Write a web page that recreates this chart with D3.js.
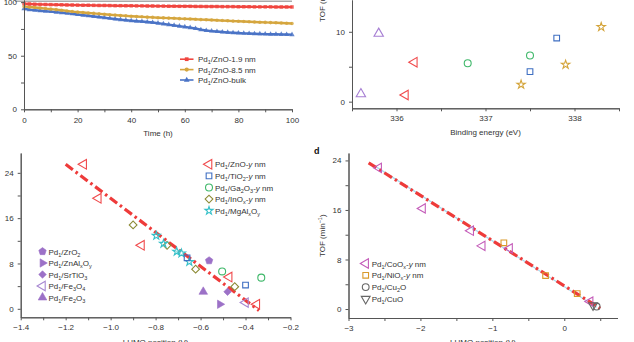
<!DOCTYPE html>
<html>
<head>
<meta charset="utf-8">
<script src="https://cdn.jsdelivr.net/npm/d3@7"></script>
<style>
  html, body { margin: 0; padding: 0; background: #fff; }
  svg { display: block; font-family: "Liberation Sans", Arial, sans-serif; }
  .axis path, .axis line { stroke: #555; stroke-width: 1; }
  .axis text { fill: #333; font-size: 8px; }
  .label { fill: #333; font-size: 8px; }
</style>
</head>
<body>
<div id="chart"></div>
<script>
// Stability runs (a): conversion (%) against time (h).
var hours = [0, 2, 4, 6, 8, 10, 12, 14, 16, 18, 20, 22, 24, 26, 28, 30, 32, 34,
  36, 38, 40, 42, 44, 46, 48, 50, 52, 54, 56, 58, 60, 62, 64, 66, 68, 70, 72,
  74, 76, 78, 80, 82, 84, 86, 88, 90, 92, 94, 96, 98, 100];
var zno19 = [98.6, 98.3, 98.1, 97.9, 97.8, 97.7, 97.6, 97.5, 97.4, 97.3,
  97.2, 97.1, 97.1, 97.0, 96.9, 96.9, 96.8, 96.7, 96.7, 96.6,
  96.6, 96.5, 96.5, 96.4, 96.4, 96.3, 96.3, 96.2, 96.2, 96.1,
  96.1, 96.1, 96.0, 96.0, 95.9, 95.9, 95.9, 95.8, 95.8, 95.8,
  95.7, 95.7, 95.7, 95.6, 95.6, 95.6, 95.6, 95.5, 95.5, 95.5, 95.5];
var zno85 = [96.0, 95.5, 95.0, 94.5, 94.0, 93.5, 93.0, 92.4, 91.8, 91.2,
  90.7, 90.3, 89.9, 89.5, 89.1, 88.7, 88.3, 87.9, 87.5, 87.2,
  86.9, 86.6, 86.3, 86.0, 85.8, 85.5, 85.3, 85.1, 84.9, 84.6,
  84.4, 84.2, 84.0, 83.7, 83.5, 83.3, 83.1, 82.8, 82.6, 82.3,
  82.1, 81.9, 81.7, 81.5, 81.3, 81.1, 80.9, 80.7, 80.5, 80.3, 80.1];
var znoBulk = [93.8, 93.0, 92.5, 92.0, 91.6, 91.2, 90.7, 90.2, 89.7, 89.1,
  88.5, 87.9, 87.3, 86.7, 86.1, 85.5, 84.9, 84.3, 83.7, 83.2,
  82.7, 82.3, 81.9, 81.5, 81.0, 80.4, 79.7, 79.0, 78.3, 77.6,
  76.9, 76.2, 75.4, 74.3, 73.5, 73.0, 72.6, 72.2, 71.8, 71.5,
  71.2, 70.9, 70.7, 70.5, 70.4, 70.2, 70.1, 70.0, 69.9, 69.8, 69.7];
var stabilityNames = ['Pd_1/ZnO-1.9 nm', 'Pd_1/ZnO-8.5 nm', 'Pd_1/ZnO-bulk'];

// TOF against Pd 3d binding energy (eV).
var beTriangles = [[335.6, 1.1], [335.8, 9.75]];
var beZnO = [[336.1, 0.95], [336.2, 5.65]];
var beGa2O3 = [[336.8, 5.5], [337.5, 6.6]];
var beTiO2 = [[337.5, 4.3], [337.8, 9.1]];
var beStars = [[337.4, 2.45], [337.9, 5.3], [338.3, 10.7]];

// TOF against LUMO position (V), n-type supports.
var lumoZnO = [[-1.12, 25.5], [-1.055, 19.5], [-0.863, 11.2], [-0.473, 5.6], [-0.35, 0.8]];
var lumoTiO2 = [[-0.66, 9.0], [-0.40, 4.2]];
var lumoGa2O3 = [[-0.504, 6.6], [-0.33, 5.5]];
var lumoInOx = [[-0.90, 14.8], [-0.749, 11.2], [-0.622, 7.0], [-0.448, 3.9]];
var lumoMgAl = [[-0.797, 12.9], [-0.765, 11.5], [-0.706, 10.1], [-0.685, 9.8], [-0.65, 8.3]];
var lumoZrO2 = [[-0.562, 8.5]];
var lumoZnAl = [[-0.514, 0.8]];
var lumoSrTiO3 = [[-0.48, 3.0]];
var lumoFe3O4 = [[-0.40, 1.1]];
var lumoFe2O3 = [[-0.588, 3.0]];
var fitN = [[-1.2, 25.5], [-0.34, -0.3]];
var namesN = ['Pd_1/ZnO-*y* nm', 'Pd_1/TiO_2-*y* nm', 'Pd_1/Ga_2O_3-*y* nm',
  'Pd_1/InO_x-*y* nm', 'Pd_1/MgAl_xO_y'];
var namesOther = ['Pd_1/ZrO_2', 'Pd_1/ZnAl_xO_y', 'Pd_1/SrTiO_3', 'Pd_1/Fe_3O_4', 'Pd_1/Fe_2O_3'];

// TOF against LUMO position (V), p-type supports (d).
var lumoCoOx = [[-2.58, 22.8], [-1.97, 16.25], [-1.30, 12.65], [-1.14, 10.2], [-0.76, 9.8], [0.36, 1.2]];
var lumoNiOx = [[-0.84, 10.7], [-0.26, 5.4], [0.18, 2.5]];
var lumoCu2O = [[0.45, 0.4]];
var lumoCuO = [[0.40, 0.6]];
var fitP = [[-2.72, 23.6], [0.5, 0.1]];
var guideP = [[-2.62, 23.0], [0.45, 0.3]];
var namesP = ['Pd_1/CoO_x-*y* nm', 'Pd_1/NiO_x-*y* nm', 'Pd_1/Cu_2O', 'Pd_1/CuO'];

var symbolPentagon = {
  draw: function(context, size) {
    var r = Math.sqrt(size / 2.378);
    for (var k = 0; k < 5; k++) {
      var a = -Math.PI / 2 + k * 2 * Math.PI / 5;
      if (k === 0) {
        context.moveTo(r * Math.cos(a), r * Math.sin(a));
      } else {
        context.lineTo(r * Math.cos(a), r * Math.sin(a));
      }
    }
    context.closePath();
  }
};

var shapes = {
  triangle: d3.symbolTriangle,
  square: d3.symbolSquare,
  circle: d3.symbolCircle,
  star: d3.symbolStar,
  pentagon: symbolPentagon
};

var red = '#ee3b3a';
var purple = '#9c71c7';

// Marker styles: shape, area, rotation, colour, filled.
var mk = {
  znoTri: {shape: 'triangle', size: 40, rot: -90, color: '#f04a4c'},
  tiSq: {shape: 'square', size: 32, rot: 0, color: '#3f6fc2'},
  gaCirc: {shape: 'circle', size: 38, rot: 0, color: '#3fb86a'},
  inDia: {shape: 'square', size: 30, rot: 45, color: '#8c8a34'},
  mgStar: {shape: 'star', size: 20, rot: 0, color: '#35c0c8'},
  zrPent: {shape: 'pentagon', size: 36, rot: 0, color: purple, fill: true},
  znAlTri: {shape: 'triangle', size: 30, rot: 90, color: purple, fill: true},
  srDia: {shape: 'square', size: 28, rot: 45, color: purple, fill: true},
  fe3Tri: {shape: 'triangle', size: 38, rot: -90, color: '#a888d2'},
  fe2Tri: {shape: 'triangle', size: 32, rot: 0, color: purple, fill: true},
  beTri: {shape: 'triangle', size: 38, rot: 0, color: '#a67ed3'},
  beStar: {shape: 'star', size: 22, rot: 0, color: '#d4a43a'},
  coTri: {shape: 'triangle', size: 38, rot: -90, color: '#c45cb9'},
  niSq: {shape: 'square', size: 32, rot: 0, color: '#d99a2b'},
  cu2oCirc: {shape: 'circle', size: 36, rot: 0, color: '#666'},
  cuoTri: {shape: 'triangle', size: 34, rot: 180, color: '#666'}
};

var svg = d3.select('#chart').append('svg')
  .attr('width', 634)
  .attr('height', 342);

function css_function(n) {
  return n + '(' + Array.prototype.slice.call(arguments, 1).join(', ') + ')';
}

// Text with _sub, _{sub}, ^{sup} and *italic* runs.
function richText(text, str) {
  var i = 0;
  var shift = 0;
  var italic = false;
  while (i < str.length) {
    var c = str[i];
    if (c === '*') {
      italic = !italic;
      i++;
      continue;
    }
    var kind = null;
    var chunk = '';
    if (c === '_' || c === '^') {
      kind = c;
      if (str[i + 1] === '{') {
        var j = str.indexOf('}', i);
        chunk = str.slice(i + 2, j);
        i = j + 1;
      } else {
        chunk = str[i + 1];
        i += 2;
      }
    } else {
      while (i < str.length && '*_^'.indexOf(str[i]) < 0) {
        chunk += str[i++];
      }
    }
    var target = kind === '_' ? 2 : (kind === '^' ? -3 : 0);
    text.append('tspan')
      .attr('dy', target - shift)
      .style('font-size', kind ? '5.5px' : null)
      .style('font-style', italic ? 'italic' : null)
      .text(chunk);
    shift = target;
  }
}

function symbolPath(spec) {
  return d3.symbol().type(shapes[spec.shape]).size(spec.size)();
}

function drawMarker(g, px, py, spec) {
  g.append('path')
    .attr('d', symbolPath(spec))
    .attr('transform', css_function('translate', px, py) + ' ' + css_function('rotate', spec.rot))
    .style('fill', spec.fill ? spec.color : 'none')
    .style('stroke', spec.color)
    .style('stroke-width', spec.fill ? 0.6 : 1.1);
}

function plotPoints(g, data, x, y, spec) {
  for (var ii = 0; ii < data.length; ii++) {
    drawMarker(g, x(data[ii][0]), y(data[ii][1]), spec);
  }
}

function drawAxes(g, x, y, opt) {
  var bottom = y.range()[0];
  var left = x.range()[0];

  g.append('g')
    .attr('class', 'axis')
    .attr('transform', css_function('translate', 0, bottom))
    .call(d3.axisBottom(x).tickValues(opt.xMinor).tickFormat('')
      .tickSize(3).tickSizeOuter(0));
  g.append('g')
    .attr('class', 'axis')
    .attr('transform', css_function('translate', 0, bottom))
    .call(d3.axisBottom(x).tickValues(opt.xMajor).tickFormat(opt.xFormat)
      .tickSize(3).tickPadding(opt.xPad).tickSizeOuter(0));

  g.append('g')
    .attr('class', 'axis')
    .attr('transform', css_function('translate', left, 0))
    .call(d3.axisLeft(y).tickValues(opt.yMinor).tickFormat('')
      .tickSize(3).tickSizeOuter(0));
  g.append('g')
    .attr('class', 'axis')
    .attr('transform', css_function('translate', left, 0))
    .call(d3.axisLeft(y).tickValues(opt.yMajor).tickFormat(d3.format('d'))
      .tickSize(3).tickPadding(opt.yPad).tickSizeOuter(0));
}

function axisTitle(g, str, px, py, rotate) {
  var t = g.append('text')
    .attr('class', 'label')
    .attr('text-anchor', rotate ? 'start' : 'middle')
    .attr('transform', css_function('translate', px, py) +
      (rotate ? ' rotate(-90)' : ''));
  richText(t, str);
}

function fitLine(g, data, x, y) {
  g.append('path')
    .attr('d', d3.line()
      .x(function(d) { return x(d[0]); })
      .y(function(d) { return y(d[1]); })(data))
    .style('fill', 'none')
    .style('stroke', red)
    .style('stroke-width', 3.2)
    .style('stroke-dasharray', '9,3.5,2.5,3.5');
}

function legend(g, names, specs, px, py, step) {
  for (var ii = 0; ii < names.length; ii++) {
    var cy = py + ii * step;
    drawMarker(g, px, cy, specs[ii]);
    var t = g.append('text')
      .attr('class', 'label')
      .attr('x', px + 6)
      .attr('y', cy + 3);
    richText(t, names[ii]);
  }
}

// Panel: stability over time.
(function() {
  var x = d3.scaleLinear().domain([0, 100]).range([24, 292]);
  var y = d3.scaleLinear().domain([0, 102]).range([109.3, 0]);
  var g = svg.append('g');

  g.append('line')
    .attr('x1', x(0) - 9)
    .attr('x2', x(100))
    .attr('y1', y(100) - 1)
    .attr('y2', y(100) - 1)
    .style('stroke', '#aaa')
    .style('stroke-width', 1.5);

  var series = [
    {values: znoBulk, color: '#4a73c6', shape: 'triangle', size: 12},
    {values: zno85, color: '#d5a63e', shape: 'circle', size: 10},
    {values: zno19, color: '#f0453f', shape: 'square', size: 12}
  ];

  for (var s = 0; s < series.length; s++) {
    var ser = series[s];
    var pts = hours.map(function(h, k) { return [h, ser.values[k]]; });
    g.append('path')
      .attr('d', d3.line()
        .x(function(d) { return x(d[0]); })
        .y(function(d) { return y(d[1]); })(pts))
      .style('fill', 'none')
      .style('stroke', ser.color)
      .style('stroke-width', 2.4);
    g.selectAll(null)
      .data(pts)
      .enter()
      .append('path')
      .attr('d', d3.symbol().type(shapes[ser.shape]).size(ser.size)())
      .attr('transform', function(d) {
        return css_function('translate', x(d[0]), y(d[1]));
      })
      .style('fill', ser.color)
      .style('opacity', 0.85);
  }

  drawAxes(g, x, y, {
    xMajor: [0, 20, 40, 60, 80, 100],
    xMinor: [10, 30, 50, 70, 90],
    xFormat: d3.format('d'),
    xPad: 5,
    yMajor: [0, 50, 100],
    yMinor: [25, 75],
    yPad: 4
  });
  axisTitle(g, 'Time (h)', (x(0) + x(100)) / 2, 136, false);

  var colors = ['#f0453f', '#d5a63e', '#4a73c6'];
  var marks = ['square', 'circle', 'triangle'];
  for (var ii = 0; ii < stabilityNames.length; ii++) {
    var cy = 59.2 + ii * 10.4;
    g.append('line')
      .attr('x1', 180).attr('x2', 193.5)
      .attr('y1', cy).attr('y2', cy)
      .style('stroke', colors[ii])
      .style('stroke-width', 1.6);
    g.append('path')
      .attr('d', d3.symbol().type(shapes[marks[ii]]).size(14)())
      .attr('transform', css_function('translate', 186.7, cy))
      .style('fill', colors[ii]);
    var t = g.append('text')
      .attr('class', 'label')
      .attr('x', 198)
      .attr('y', cy + 3);
    richText(t, stabilityNames[ii]);
  }
})();

// Panel: TOF against binding energy.
(function() {
  var x = d3.scaleLinear().domain([335.5, 338.5]).range([352, 619]);
  var y = d3.scaleLinear().domain([-0.95, 14.55]).range([108.3, 0]);
  var g = svg.append('g');

  drawAxes(g, x, y, {
    xMajor: [336, 337, 338],
    xMinor: [335.5, 336.5, 337.5, 338.5],
    xFormat: d3.format('d'),
    xPad: 4,
    yMajor: [0, 10],
    yMinor: [5],
    yPad: 4
  });

  plotPoints(g, beTriangles, x, y, mk.beTri);
  plotPoints(g, beZnO, x, y, mk.znoTri);
  plotPoints(g, beGa2O3, x, y, mk.gaCirc);
  plotPoints(g, beTiO2, x, y, mk.tiSq);
  plotPoints(g, beStars, x, y, mk.beStar);

  axisTitle(g, 'Binding energy (eV)', (x(335.5) + x(338.5)) / 2, 135, false);
  axisTitle(g, 'TOF (min^{\u22121})', 324.5, 22, true);
})();

// Panel: TOF against LUMO position, n-type supports.
(function() {
  var x = d3.scaleLinear().domain([-1.4, -0.2]).range([20.7, 290.5]);
  var y = d3.scaleLinear().domain([-1.5, 27.5]).range([317.3, 153]);
  var g = svg.append('g');

  drawAxes(g, x, y, {
    xMajor: [-1.4, -1.2, -1.0, -0.8, -0.6, -0.4, -0.2],
    xMinor: [-1.3, -1.1, -0.9, -0.7, -0.5, -0.3],
    xFormat: d3.format('.1f'),
    xPad: 4,
    yMajor: [0, 8, 16, 24],
    yMinor: [4, 12, 20],
    yPad: 4
  });

  fitLine(g, fitN, x, y);

  plotPoints(g, lumoInOx, x, y, mk.inDia);
  plotPoints(g, lumoMgAl, x, y, mk.mgStar);
  plotPoints(g, lumoTiO2, x, y, mk.tiSq);
  plotPoints(g, lumoGa2O3, x, y, mk.gaCirc);
  plotPoints(g, lumoZrO2, x, y, mk.zrPent);
  plotPoints(g, lumoZnAl, x, y, mk.znAlTri);
  plotPoints(g, lumoSrTiO3, x, y, mk.srDia);
  plotPoints(g, lumoFe3O4, x, y, mk.fe3Tri);
  plotPoints(g, lumoFe2O3, x, y, mk.fe2Tri);
  plotPoints(g, lumoZnO, x, y, mk.znoTri);

  legend(g, namesN, [mk.znoTri, mk.tiSq, mk.gaCirc, mk.inDia, mk.mgStar],
    209, 164.3, 11.6);
  legend(g, namesOther, [mk.zrPent, mk.znAlTri, mk.srDia, mk.fe3Tri, mk.fe2Tri],
    42.5, 251.5, 11.5);

  axisTitle(g, 'LUMO position (V)', (x(-1.4) + x(-0.2)) / 2, 345, false);
})();

// Panel d: TOF against LUMO position, p-type supports.
(function() {
  var x = d3.scaleLinear().domain([-3, 0.74]).range([348.5, 617.5]);
  var y = d3.scaleLinear().domain([-1.45, 25.2]).range([318, 153]);
  var g = svg.append('g');

  drawAxes(g, x, y, {
    xMajor: [-3, -2, -1, 0],
    xMinor: [-2.5, -1.5, -0.5, 0.5],
    xFormat: d3.format('d'),
    xPad: 4,
    yMajor: [0, 8, 16, 24],
    yMinor: [4, 12, 20],
    yPad: 4
  });

  g.append('path')
    .attr('d', d3.line()
      .x(function(d) { return x(d[0]); })
      .y(function(d) { return y(d[1]); })(guideP))
    .style('fill', 'none')
    .style('stroke', '#a9d9ee')
    .style('stroke-width', 1.2);
  fitLine(g, fitP, x, y);

  plotPoints(g, lumoCoOx, x, y, mk.coTri);
  plotPoints(g, lumoNiOx, x, y, mk.niSq);
  plotPoints(g, lumoCuO, x, y, mk.cuoTri);
  plotPoints(g, lumoCu2O, x, y, mk.cu2oCirc);

  legend(g, namesP, [mk.coTri, mk.niSq, mk.cu2oCirc, mk.cuoTri], 365.7, 263.5, 11.8);

  axisTitle(g, 'LUMO position (V)', (x(-3) + x(0.74)) / 2, 345, false);
  axisTitle(g, 'TOF (min^{\u22121})', 325, 257, true);

  g.append('text')
    .attr('x', 314)
    .attr('y', 154)
    .style('font-size', '9px')
    .style('font-weight', 'bold')
    .style('fill', '#111')
    .text('d');
})();
</script>
</body>
</html>
